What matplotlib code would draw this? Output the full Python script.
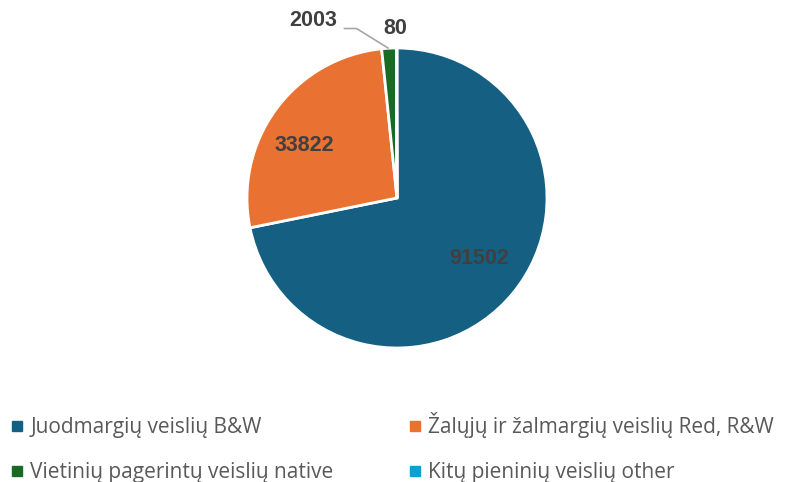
import matplotlib.pyplot as plt
from matplotlib.lines import Line2D

labels = ['Juodmargių veislių B&W', 'Žalųjų ir žalmargių veislių Red, R&W',
          'Vietinių pagerintų veislių native', 'Kitų pieninių veislių other']
values = [91502, 33822, 2003, 80]
colors = ['#156082', '#E97132', '#196B24', '#0F9ED5']

plt.rcParams['font.family'] = ['Open Sans', 'DejaVu Sans']

fig = plt.figure(figsize=(7.97, 4.82), dpi=100)
ax = fig.add_axes([247/797, 134/482, 300/797, 300/482])

ax.pie(values, colors=colors, startangle=90, counterclock=False,
       wedgeprops=dict(edgecolor='white', linewidth=2))
ax.set_xlim(-1, 1)
ax.set_ylim(-1, 1)
ax.set_aspect('equal')

lab_col = '#404040'
lab_pos = [(0.55, -0.40), (-0.62, 0.35), (-0.56, 1.18), (-0.01, 1.13)]
for v, (x, y) in zip(values, lab_pos):
    ax.text(x, y, str(v), ha='center', va='center', fontsize=15.5,
            fontweight='bold', color=lab_col, family=['Liberation Sans', 'DejaVu Sans'],
            clip_on=False)

# leader line for the 2003 label
ax.plot([-0.06, -0.27, -0.35], [1.0, 1.13, 1.13], color='#a6a6a6', lw=1.2,
        clip_on=False)

# legend fills column by column, so reorder to get row order
order = [0, 2, 1, 3]
handles = [Line2D([], [], marker='s', ls='', color=colors[i], markersize=7) for i in order]
fig.legend(handles, [labels[i] for i in order], loc='upper left',
           bbox_to_anchor=(-0.005, 0.175), ncol=2, frameon=False, fontsize=15,
           handlelength=0.6, handletextpad=0.35, borderaxespad=0.3,
           columnspacing=3.6, labelspacing=1.15, labelcolor='#595959')

fig.savefig('out.png', dpi=100)
